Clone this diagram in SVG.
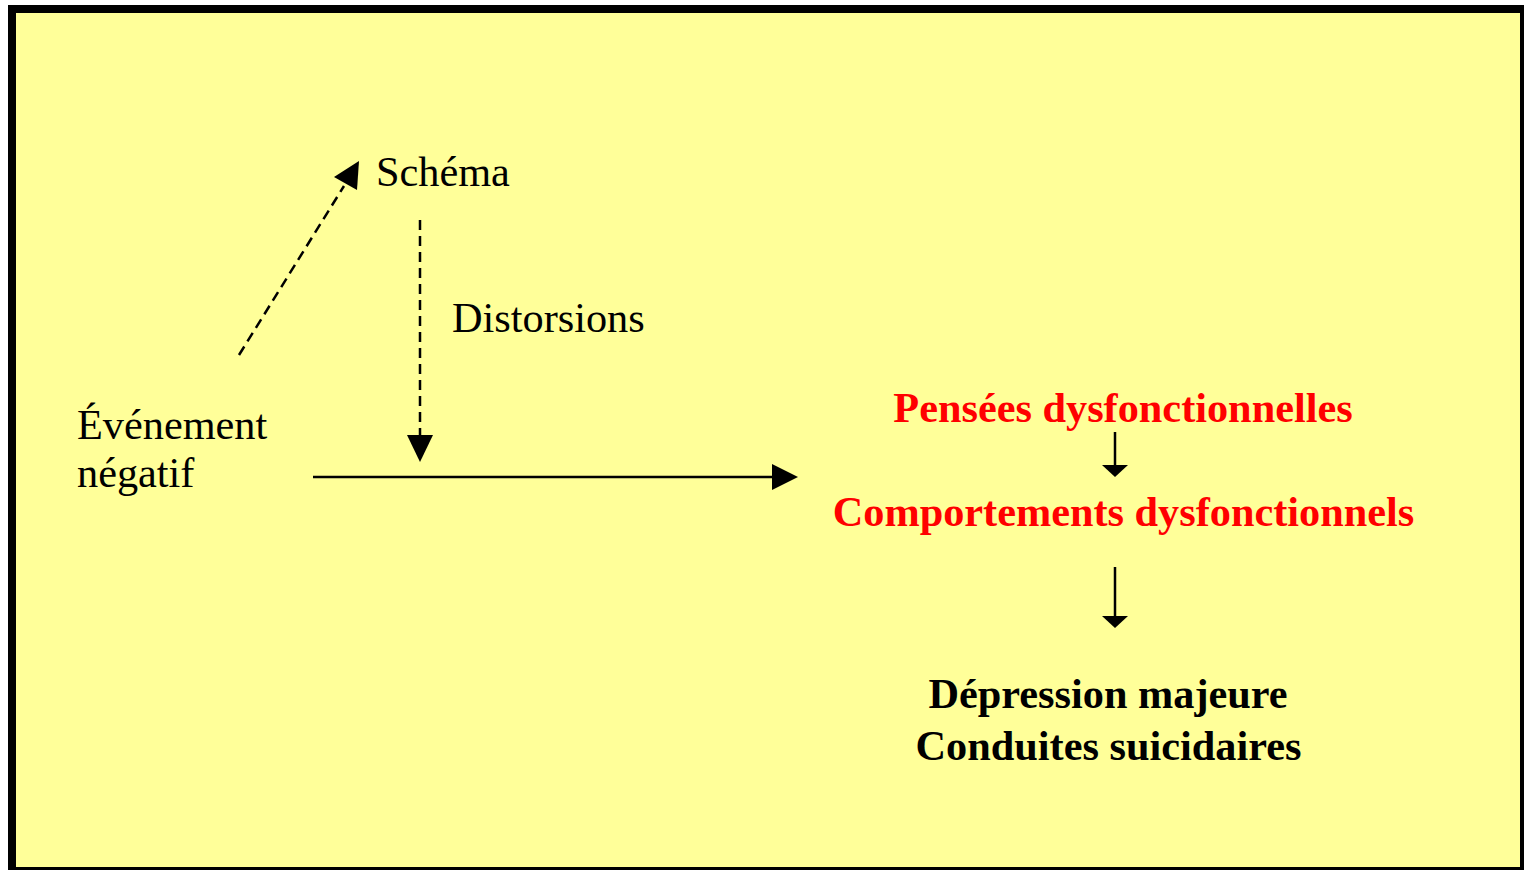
<svg xmlns="http://www.w3.org/2000/svg" width="1524" height="870" viewBox="0 0 1524 870">
<style>
.t{font-family:"Liberation Serif","Times New Roman",serif;font-size:42.3px;fill:#000}
.b{font-weight:bold}
.r{fill:#FF0000}
.ln{stroke:#000;stroke-width:2.5;fill:none}
.d{stroke-dasharray:10 6}
.ah{fill:#000}
</style>
<rect x="12" y="9" width="1512" height="862" fill="#FFFF99" stroke="#000" stroke-width="8"/>
<g id="connectors">
<line class="ln d" x1="239" y1="355" x2="344" y2="186"/>
<polygon class="ah" points="359,161 334,177 357,190"/>
<line class="ln d" x1="420" y1="220" x2="420" y2="438"/>
<polygon class="ah" points="420,462 407,435 433,435"/>
<line class="ln" x1="313" y1="477" x2="775" y2="477"/>
<polygon class="ah" points="798,477 772,464 772,490"/>
<line class="ln" x1="1115" y1="432" x2="1115" y2="468"/>
<polygon class="ah" points="1115,477 1102,465 1128,465"/>
<line class="ln" x1="1115" y1="567" x2="1115" y2="618"/>
<polygon class="ah" points="1115,628 1102,616 1128,616"/>
</g>
<g id="schema"><text class="t" x="376" y="186">Schéma</text></g>
<g id="distorsions"><text class="t" x="452" y="332">Distorsions</text></g>
<g id="evenement"><text class="t" x="77" y="439">Événement</text><text class="t" x="77" y="487">négatif</text></g>
<g id="pensees"><text class="t b r" x="1123" y="422" text-anchor="middle">Pensées dysfonctionnelles</text></g>
<g id="comportements"><text class="t b r" x="1123.5" y="526" text-anchor="middle">Comportements dysfonctionnels</text></g>
<g id="depression"><text class="t b" x="1108" y="708" text-anchor="middle">Dépression majeure</text><text class="t b" x="1108.5" y="760" text-anchor="middle">Conduites suicidaires</text></g>
</svg>
